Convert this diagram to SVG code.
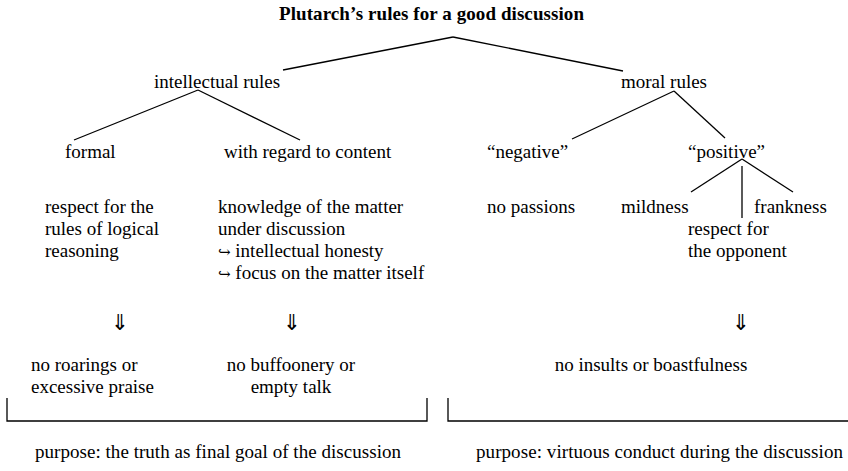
<svg xmlns="http://www.w3.org/2000/svg" width="848" height="471" viewBox="0 0 848 471">
<style>
text{font-family:"Liberation Serif","Times New Roman",serif;font-size:19px;fill:#000}
.b{font-weight:bold}
.m{text-anchor:middle}
.ar{font-family:"DejaVu Serif","Liberation Serif",serif}
.dn{font-family:"DejaVu Sans","Liberation Serif",sans-serif;font-size:22px}
line,polyline{stroke:#000;stroke-width:1.3;fill:none}
</style>
<rect width="848" height="471" fill="#fff"/>
<g id="connectors">
<line x1="453" y1="37" x2="283" y2="70"/>
<line x1="453" y1="37" x2="623" y2="71"/>
<line x1="198" y1="90" x2="74" y2="140"/>
<line x1="198" y1="90" x2="300" y2="140"/>
<line x1="674" y1="91" x2="572" y2="139"/>
<line x1="674" y1="91" x2="725" y2="138"/>
<line x1="742" y1="159" x2="691" y2="192"/>
<line x1="742" y1="166" x2="742" y2="218"/>
<line x1="742" y1="159" x2="793" y2="192"/>
<polyline points="7,398 7,421 427,421 427,398"/>
<polyline points="448,398 448,421 848,421"/>
</g>
<g id="title"><text class="b" x="279" y="20" textLength="305">Plutarch’s rules for a good discussion</text></g>
<g id="intellectual"><text x="154" y="88">intellectual rules</text></g>
<g id="moral"><text x="621" y="88">moral rules</text></g>
<g id="formal"><text x="65" y="158">formal</text></g>
<g id="content"><text x="224" y="158">with regard to content</text></g>
<g id="negative"><text x="487" y="158">“negative”</text></g>
<g id="positive"><text x="688" y="158">“positive”</text></g>
<g id="respect-rules"><text x="45" y="213">respect for the</text><text x="45" y="235">rules of logical</text><text x="45" y="257">reasoning</text></g>
<g id="knowledge"><text x="218" y="213">knowledge of the matter</text><text x="218" y="235">under discussion</text><text x="218" y="257"><tspan class="ar" font-size="15">↪</tspan> intellectual honesty</text><text x="218" y="279"><tspan class="ar" font-size="15">↪</tspan> focus on the matter itself</text></g>
<g id="no-passions"><text x="487" y="213">no passions</text></g>
<g id="mildness"><text x="621" y="213">mildness</text></g>
<g id="frankness"><text x="754" y="213">frankness</text></g>
<g id="respect-opponent"><text x="688" y="235">respect for</text><text x="688" y="257">the opponent</text></g>
<g id="arrow1"><text class="dn m" x="120" y="330">⇓</text></g>
<g id="arrow2"><text class="dn m" x="292" y="330">⇓</text></g>
<g id="arrow3"><text class="dn m" x="741" y="330">⇓</text></g>
<g id="no-roarings"><text x="31" y="371">no roarings or</text><text x="31" y="393">excessive praise</text></g>
<g id="no-buffoonery"><text class="m" x="291" y="371">no buffoonery or</text><text class="m" x="291" y="393">empty talk</text></g>
<g id="no-insults"><text class="m" x="651" y="371">no insults or boastfulness</text></g>
<g id="purpose-left"><text x="35" y="458" textLength="366">purpose: the truth as final goal of the discussion</text></g>
<g id="purpose-right"><text x="476" y="458" textLength="367">purpose: virtuous conduct during the discussion</text></g>
</svg>
